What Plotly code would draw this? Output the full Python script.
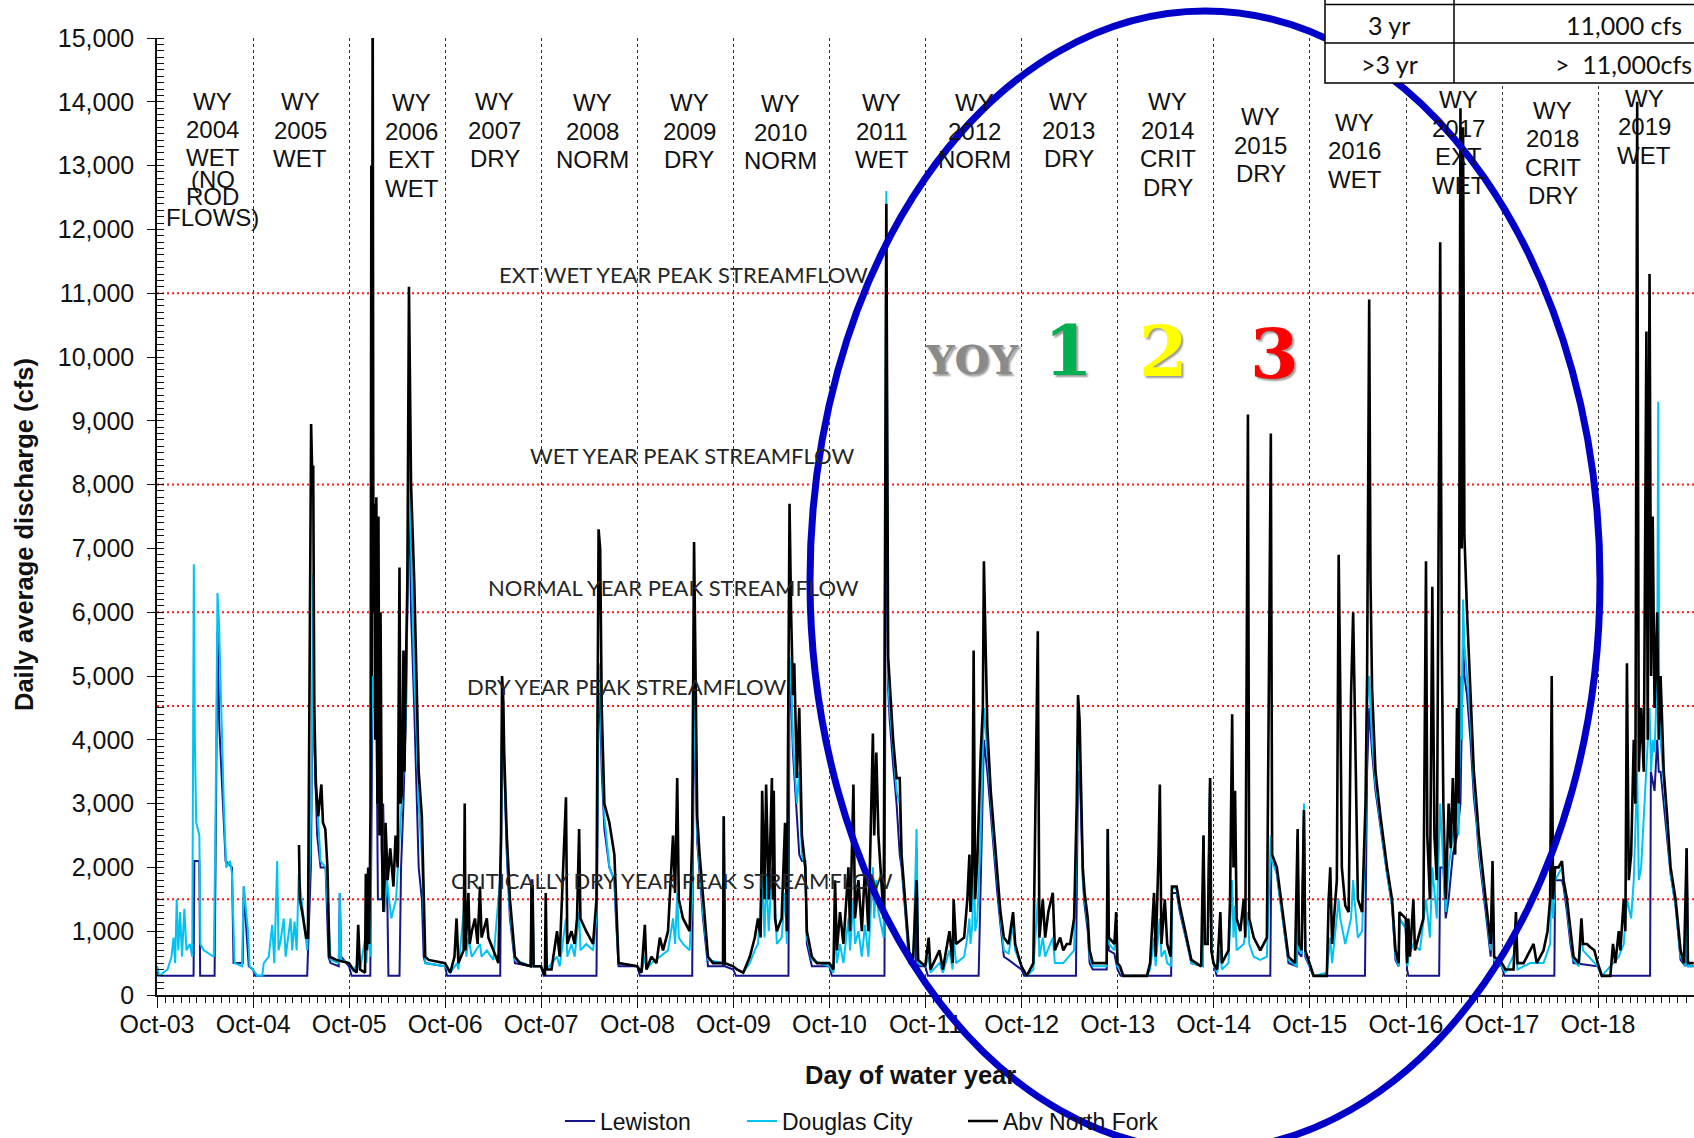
import plotly.graph_objects as go

# ---------------- data ----------------
LEWISTON = [
    ("2003-10-01",450),("2003-10-06",300),("2004-02-17",300),("2004-02-20",2100),("2004-03-10",2100),("2004-03-13",300),
    ("2004-05-07",300),("2004-05-12",2500),("2004-05-18",5700),("2004-05-25",4200),("2004-06-08",3000),("2004-06-18",2100),
    ("2004-07-12",2000),("2004-07-18",500),("2004-08-22",500),("2004-08-26",1700),("2004-09-05",1000),("2004-09-14",450),("2004-09-30",400),
    ("2004-10-08",300),("2005-04-24",300),("2005-05-08",2000),("2005-05-17",5500),("2005-05-22",3800),("2005-06-01",2500),("2005-06-14",2000),
    ("2005-07-03",2000),("2005-07-14",600),("2005-07-22",500),("2005-08-22",450),("2005-08-26",1600),("2005-08-31",600),("2005-09-30",450),
    ("2005-10-10",300),("2005-12-20",300),("2005-12-24",3000),("2005-12-29",5000),("2006-01-05",4500),("2006-01-11",5000),("2006-01-18",1500),
    ("2006-02-03",1500),("2006-02-07",3000),("2006-02-14",1400),("2006-02-21",2000),("2006-02-27",300),("2006-04-10",300),("2006-04-16",2000),
    ("2006-04-25",3000),("2006-05-05",4500),("2006-05-16",8000),("2006-05-24",6000),("2006-06-05",4500),("2006-06-15",3200),("2006-06-22",2000),
    ("2006-07-04",1500),("2006-07-11",600),("2006-07-17",500),("2006-09-30",450),
    ("2006-10-08",300),("2007-04-28",300),("2007-05-05",4300),("2007-05-10",4000),("2007-05-23",2200),("2007-06-04",1200),("2007-06-23",500),
    ("2007-08-22",450),("2007-08-25",1800),("2007-08-29",1800),("2007-09-02",450),("2007-09-30",450),
    ("2007-10-10",300),("2008-04-28",300),("2008-05-06",4800),("2008-05-12",4500),("2008-05-18",3500),("2008-05-28",2600),("2008-06-16",2000),
    ("2008-07-05",1800),("2008-07-11",1200),("2008-07-21",450),("2008-09-30",450),
    ("2008-10-10",300),("2009-04-27",300),("2009-05-04",4800),("2009-05-10",3500),("2009-05-16",2400),("2009-05-25",1900),("2009-06-07",1200),
    ("2009-06-26",450),("2009-08-22",450),("2009-08-25",2800),("2009-08-29",450),("2009-09-30",400),
    ("2009-10-10",300),("2010-04-28",300),("2010-05-02",5000),("2010-05-08",4700),("2010-05-15",3800),("2010-05-30",2800),("2010-06-08",2200),
    ("2010-06-18",2100),("2010-07-01",2100),("2010-07-07",800),("2010-07-26",450),("2010-09-30",450),
    ("2010-10-10",300),("2011-04-28",300),("2011-05-05",10000),("2011-05-12",4800),("2011-05-18",4300),("2011-05-31",3600),("2011-06-13",3000),
    ("2011-06-25",2200),("2011-07-02",2000),("2011-07-14",1400),("2011-07-31",500),("2011-08-25",450),("2011-08-28",2300),("2011-09-03",450),("2011-09-30",450),
    ("2011-10-10",300),("2012-04-20",300),("2012-05-02",2500),("2012-05-10",4000),("2012-05-23",3500),("2012-06-05",2800),("2012-06-17",2200),
    ("2012-06-30",1600),("2012-07-12",1100),("2012-07-25",600),("2012-08-12",550),("2012-09-30",400),
    ("2012-10-10",300),("2013-04-25",300),("2013-05-03",3500),("2013-05-09",3500),("2013-05-15",2800),("2013-05-21",1800),("2013-05-28",1400),
    ("2013-06-09",1000),("2013-06-16",500),("2013-06-28",400),("2013-08-20",400),("2013-08-24",2600),("2013-08-28",700),("2013-09-18",650),("2013-09-30",400),
    ("2013-10-12",300),("2014-04-22",300),("2014-04-25",1600),("2014-05-13",1600),("2014-05-25",1300),("2014-06-19",850),("2014-07-08",500),
    ("2014-08-20",450),("2014-08-23",2500),("2014-08-28",800),("2014-09-08",800),("2014-09-17",3400),("2014-09-22",700),("2014-09-30",500),
    ("2014-10-12",300),("2015-05-04",300),("2015-05-08",2200),("2015-05-29",1900),("2015-06-10",1500),("2015-06-23",1050),("2015-07-12",500),
    ("2015-08-12",450),("2015-08-16",2450),("2015-08-21",650),("2015-08-31",600),("2015-09-09",2900),("2015-09-14",600),("2015-09-30",450),
    ("2015-10-14",300),("2016-04-28",300),("2016-05-06",3500),("2016-05-14",4500),("2016-05-25",3800),("2016-06-07",3200),("2016-06-26",2600),
    ("2016-07-21",1900),("2016-08-09",1400),("2016-08-22",550),("2016-09-03",450),("2016-09-06",1200),("2016-09-30",1050),
    ("2016-10-05",400),("2016-10-10",300),("2017-02-04",300),("2017-02-08",2000),("2017-02-20",2000),("2017-03-01",1200),("2017-03-12",1500),
    ("2017-03-28",2200),("2017-04-13",2500),("2017-04-26",3000),("2017-05-06",5500),("2017-05-11",5000),("2017-05-21",4700),("2017-06-03",4000),
    ("2017-06-16",3100),("2017-06-26",2700),("2017-07-05",2200),("2017-07-31",1300),("2017-08-19",600),("2017-08-26",1600),("2017-09-01",500),("2017-09-30",450),
    ("2017-10-10",300),("2018-04-18",300),("2018-04-21",1800),("2018-05-17",1800),("2018-05-23",1700),("2018-06-05",1300),("2018-06-18",800),
    ("2018-06-30",500),("2018-09-30",450),
    ("2018-10-14",300),("2019-04-17",300),("2019-04-20",3500),("2019-05-04",3200),("2019-05-14",4000),("2019-05-20",3500),("2019-05-27",3500),
    ("2019-06-08",3000),("2019-06-21",2500),("2019-07-04",1900),("2019-07-23",1400),("2019-08-11",550),("2019-08-30",450),("2019-09-03",2300),
    ("2019-09-08",450),("2019-09-30",450),
]

DOUGLAS_CITY = [
    ("2003-10-01",450),("2003-10-10",300),("2003-10-25",350),("2003-11-10",400),("2003-11-25",600),("2003-12-03",900),("2003-12-09",500),
    ("2003-12-15",1500),("2003-12-21",700),("2003-12-28",1300),("2004-01-04",600),("2004-01-13",1350),("2004-01-21",700),("2004-02-03",800),
    ("2004-02-12",600),("2004-02-18",6750),("2004-02-22",4000),("2004-02-27",2700),("2004-03-10",2500),("2004-03-14",800),("2004-03-27",700),
    ("2004-05-04",600),("2004-05-10",2500),("2004-05-18",6300),("2004-05-24",5800),("2004-06-01",4500),("2004-06-11",3000),("2004-06-20",2000),
    ("2004-07-05",2100),("2004-07-12",1900),("2004-07-22",500),("2004-08-19",450),("2004-08-26",1700),("2004-09-11",1000),("2004-09-17",450),("2004-09-30",400),
    ("2004-10-16",300),("2004-11-04",300),("2004-11-10",500),("2004-11-29",600),("2004-12-12",1100),("2004-12-20",500),("2004-12-31",2100),
    ("2005-01-05",700),("2005-01-13",850),("2005-01-25",1200),("2005-02-01",600),("2005-02-20",1200),("2005-02-26",700),("2005-03-07",1150),
    ("2005-03-15",700),("2005-03-23",1900),("2005-04-05",1400),("2005-04-17",950),("2005-04-24",700),("2005-05-10",3000),("2005-05-17",6600),
    ("2005-05-22",4000),("2005-06-01",3000),("2005-06-14",2100),("2005-07-03",2000),("2005-07-16",1000),("2005-07-22",550),("2005-08-22",500),
    ("2005-08-26",1600),("2005-08-31",550),("2005-09-30",500),
    ("2005-10-16",380),("2005-11-04",500),("2005-11-11",400),("2005-12-01",900),("2005-12-05",500),("2005-12-12",1000),("2005-12-20",600),
    ("2005-12-24",4000),("2005-12-29",5000),("2006-01-05",4500),("2006-01-11",5700),("2006-01-20",3500),("2006-02-03",2500),("2006-02-12",1300),
    ("2006-02-21",1800),("2006-03-10",1200),("2006-03-28",1500),("2006-04-10",2500),("2006-04-25",3500),("2006-05-05",4500),("2006-05-16",8500),
    ("2006-05-24",7000),("2006-06-05",5000),("2006-06-15",4000),("2006-06-22",3000),("2006-07-04",2200),("2006-07-11",1200),("2006-07-17",500),("2006-09-30",450),
    ("2006-10-20",350),("2006-11-15",500),("2006-11-20",400),("2006-12-14",1500),("2006-12-20",600),("2006-12-28",900),("2007-01-10",600),
    ("2007-02-10",800),("2007-02-16",600),("2007-03-08",700),("2007-04-02",550),("2007-05-01",2000),("2007-05-05",4500),("2007-05-10",4300),
    ("2007-05-23",2300),("2007-06-04",1300),("2007-06-23",550),("2007-08-22",450),("2007-08-25",1700),("2007-08-29",1700),("2007-09-02",450),("2007-09-30",450),
    ("2007-10-15",300),("2007-10-18",900),("2007-10-22",400),("2007-11-30",600),("2007-12-10",450),("2008-01-03",1200),("2008-01-08",600),
    ("2008-01-24",800),("2008-02-05",600),("2008-02-22",1300),("2008-02-27",700),("2008-03-20",800),("2008-04-15",700),("2008-04-28",1200),
    ("2008-05-06",5200),("2008-05-12",5000),("2008-05-18",3800),("2008-05-28",2800),("2008-06-16",2000),("2008-07-05",1800),("2008-07-11",1300),
    ("2008-07-21",500),("2008-09-30",450),
    ("2008-10-16",350),("2008-10-29",600),("2008-11-04",400),("2008-11-23",500),("2008-12-25",600),("2009-01-25",700),("2009-02-13",1200),
    ("2009-02-21",800),("2009-03-01",1600),("2009-03-07",900),("2009-03-23",800),("2009-04-17",700),("2009-04-27",1500),("2009-05-04",5200),
    ("2009-05-10",3700),("2009-05-16",2500),("2009-05-25",2000),("2009-06-07",1300),("2009-06-26",550),("2009-08-22",500),("2009-08-25",2800),
    ("2009-08-29",500),("2009-09-30",450),
    ("2009-10-14",400),("2009-11-07",350),("2009-12-02",500),("2009-12-21",700),("2010-01-02",800),("2010-01-18",1800),("2010-01-27",900),
    ("2010-02-02",1900),("2010-02-12",1000),("2010-02-24",2000),("2010-03-03",1800),("2010-03-15",800),("2010-04-02",900),("2010-04-15",1600),
    ("2010-04-22",800),("2010-05-02",5300),("2010-05-08",5000),("2010-05-15",4000),("2010-05-30",3000),("2010-06-08",3500),("2010-06-18",2200),
    ("2010-07-01",2000),("2010-07-07",900),("2010-07-26",550),("2010-09-30",450),
    ("2010-10-16",350),("2010-10-22",1000),("2010-10-29",500),("2010-11-10",800),("2010-11-23",500),("2010-12-12",1200),("2010-12-18",700),
    ("2010-12-31",1500),("2011-01-06",800),("2011-01-19",1000),("2011-02-01",600),("2011-02-13",1100),("2011-02-26",600),("2011-03-15",2000),
    ("2011-03-20",1200),("2011-03-28",1800),("2011-04-05",1300),("2011-04-25",900),("2011-05-05",12600),("2011-05-12",5000),("2011-05-18",4500),
    ("2011-05-31",3800),("2011-06-13",3200),("2011-06-25",3000),("2011-07-02",2100),("2011-07-14",1500),("2011-07-31",600),("2011-08-15",500),
    ("2011-08-28",2600),("2011-09-03",500),("2011-09-30",450),
    ("2011-10-13",600),("2011-10-20",350),("2011-11-23",500),("2011-12-06",350),("2011-12-31",700),("2012-01-12",400),("2012-01-16",900),
    ("2012-01-25",500),("2012-02-25",600),("2012-03-08",900),("2012-03-16",1200),("2012-03-20",800),("2012-03-27",1100),("2012-04-01",2500),
    ("2012-04-07",1000),("2012-04-15",1200),("2012-04-28",2500),("2012-05-10",4500),("2012-05-16",4200),("2012-05-23",3800),("2012-06-05",3000),
    ("2012-06-17",2400),("2012-06-30",1800),("2012-07-12",1200),("2012-07-25",700),("2012-08-12",650),("2012-08-29",1100),("2012-09-06",700),("2012-09-30",450),
    ("2012-10-20",300),("2012-11-14",400),("2012-12-01",1500),("2012-12-07",600),("2012-12-20",900),("2012-12-29",600),("2013-01-27",900),
    ("2013-02-04",500),("2013-03-08",500),("2013-04-18",700),("2013-04-28",2500),("2013-05-03",4000),("2013-05-09",3800),("2013-05-15",3000),
    ("2013-05-21",1900),("2013-05-28",1500),("2013-06-09",1100),("2013-06-16",600),("2013-06-28",450),("2013-08-20",450),("2013-08-24",2600),
    ("2013-08-28",800),("2013-09-18",700),("2013-09-25",1000),("2013-09-30",450),
    ("2013-10-10",400),("2013-10-22",300),("2014-01-20",300),("2014-02-01",400),("2014-02-16",900),("2014-02-22",450),("2014-03-05",1000),
    ("2014-03-10",1200),("2014-03-16",600),("2014-03-29",700),("2014-04-07",500),("2014-04-22",450),("2014-04-25",1700),("2014-05-13",1650),
    ("2014-05-25",1350),("2014-06-19",850),("2014-07-08",500),("2014-08-20",450),("2014-08-23",2500),("2014-08-28",800),("2014-09-08",800),
    ("2014-09-17",3400),("2014-09-22",700),("2014-09-30",500),
    ("2014-10-14",350),("2014-10-26",700),("2014-11-01",400),("2014-11-26",500),("2014-12-10",1800),("2014-12-15",900),("2014-12-21",1400),
    ("2014-12-27",700),("2015-01-23",800),("2015-02-08",1300),("2015-02-13",800),("2015-03-02",600),("2015-03-27",550),("2015-04-21",600),
    ("2015-05-06",2500),("2015-05-11",2100),("2015-05-29",1900),("2015-06-10",1500),("2015-06-23",1100),("2015-07-12",550),("2015-08-12",450),
    ("2015-08-16",2500),("2015-08-21",700),("2015-08-31",650),("2015-09-09",3000),("2015-09-14",650),("2015-09-30",450),
    ("2015-10-16",300),("2015-12-05",350),("2015-12-12",600),("2015-12-18",900),("2015-12-25",500),("2016-01-19",1500),("2016-01-25",1200),
    ("2016-02-13",800),("2016-03-06",1200),("2016-03-14",1800),("2016-03-19",1500),("2016-04-01",900),("2016-04-17",1000),("2016-04-30",2500),
    ("2016-05-06",4500),("2016-05-14",5000),("2016-05-19",4500),("2016-05-25",4000),("2016-06-07",3300),("2016-06-26",2700),("2016-07-21",1900),
    ("2016-08-09",1400),("2016-08-22",600),("2016-09-03",450),("2016-09-06",1200),("2016-09-30",1050),
    ("2016-10-06",450),("2016-10-10",600),("2016-10-29",800),("2016-11-23",700),("2016-12-16",1500),("2016-12-31",900),("2017-01-09",2000),
    ("2017-01-26",1200),("2017-02-08",3000),("2017-02-14",2500),("2017-03-01",1300),("2017-03-12",2000),("2017-03-28",2500),("2017-04-13",3000),
    ("2017-04-19",2500),("2017-04-26",5000),("2017-05-01",4000),("2017-05-06",6200),("2017-05-11",5500),("2017-05-21",5000),("2017-06-03",4300),
    ("2017-06-16",3300),("2017-06-26",2800),("2017-07-05",2300),("2017-07-31",1400),("2017-08-19",700),("2017-08-26",1800),("2017-09-01",550),("2017-09-30",450),
    ("2017-10-14",350),("2017-11-23",700),("2017-11-29",400),("2018-01-16",500),("2018-03-08",500),("2018-04-02",800),("2018-04-08",2000),
    ("2018-04-13",1200),("2018-04-21",1800),("2018-05-04",1900),("2018-05-17",2000),("2018-05-23",1800),("2018-06-05",1400),("2018-06-18",900),
    ("2018-06-30",550),("2018-07-20",450),("2018-07-30",1000),("2018-08-05",700),("2018-09-30",450),
    ("2018-10-16",300),("2018-11-27",500),("2018-12-19",600),("2019-01-07",800),("2019-01-19",1500),("2019-02-04",1200),("2019-02-14",1800),
    ("2019-02-27",3500),("2019-03-05",1800),("2019-03-14",2000),("2019-04-03",3500),("2019-04-15",4500),("2019-04-21",3500),("2019-04-27",4000),
    ("2019-05-04",3800),("2019-05-14",5000),("2019-05-18",9300),("2019-05-22",4500),("2019-05-27",4000),("2019-06-08",3300),("2019-06-21",2600),
    ("2019-07-04",1900),("2019-07-23",1400),("2019-08-11",600),("2019-08-30",450),("2019-09-03",2300),("2019-09-08",450),("2019-09-30",450),
]

ABV_NORTH_FORK = [
    ("2005-03-24",2350),("2005-03-27",1500),("2005-04-05",1300),("2005-04-12",1100),("2005-04-20",900),("2005-04-27",900),("2005-04-30",3000),
    ("2005-05-09",8950),("2005-05-14",8000),("2005-05-17",8300),("2005-05-21",4500),("2005-05-27",3300),("2005-06-05",2800),("2005-06-17",3300),
    ("2005-06-23",2700),("2005-07-02",2600),("2005-07-10",2000),("2005-07-14",1000),("2005-07-18",600),("2005-08-13",550),("2005-09-30",500),
    ("2005-10-16",400),("2005-10-29",350),("2005-11-04",1100),("2005-11-11",400),("2005-11-30",350),("2005-12-03",1900),("2005-12-07",700),
    ("2005-12-12",2000),("2005-12-16",800),("2005-12-21",3000),("2005-12-24",13000),("2005-12-26",5000),("2005-12-29",16000),("2006-01-01",6000),
    ("2006-01-05",7700),("2006-01-08",4000),("2006-01-12",7800),("2006-01-16",3000),("2006-01-20",7500),("2006-01-24",2500),("2006-01-28",6000),
    ("2006-02-02",2300),("2006-02-08",1300),("2006-02-16",2700),("2006-02-24",1800),("2006-03-06",2300),("2006-03-18",1700),("2006-03-26",2500),
    ("2006-04-03",2000),("2006-04-10",6700),("2006-04-14",3000),("2006-04-20",3200),("2006-04-25",5400),("2006-04-29",3500),("2006-05-04",5000),
    ("2006-05-10",6500),("2006-05-16",11100),("2006-05-20",9500),("2006-05-24",8000),("2006-06-05",6500),("2006-06-15",4800),("2006-06-22",3500),
    ("2006-07-04",2800),("2006-07-11",1500),("2006-07-17",600),("2006-07-30",550),("2006-09-30",500),
    ("2006-10-20",350),("2006-11-05",600),("2006-11-13",1200),("2006-11-20",500),("2006-12-10",700),("2006-12-14",3000),("2006-12-17",700),
    ("2006-12-28",1600),("2007-01-02",800),("2007-01-10",1000),("2007-01-22",1200),("2007-02-01",800),("2007-02-10",1700),("2007-02-16",900),
    ("2007-03-08",1200),("2007-03-14",900),("2007-04-02",700),("2007-04-21",500),("2007-05-01",2500),("2007-05-05",5000),("2007-05-10",4600),
    ("2007-05-13",3800),("2007-05-23",2500),("2007-06-04",1500),("2007-06-23",600),("2007-07-12",500),("2007-08-22",450),("2007-08-25",1700),
    ("2007-08-29",1700),("2007-09-02",450),("2007-09-30",450),
    ("2007-10-15",300),("2007-10-18",1600),("2007-10-22",400),("2007-11-09",400),("2007-11-30",1000),("2007-12-10",600),("2008-01-03",3100),
    ("2008-01-08",800),("2008-01-24",1000),("2008-02-05",800),("2008-02-14",1200),("2008-02-22",2600),("2008-02-27",1200),("2008-03-20",1000),
    ("2008-04-15",800),("2008-04-28",1500),("2008-05-06",7300),("2008-05-12",7000),("2008-05-18",4500),("2008-05-28",3000),("2008-06-16",2700),
    ("2008-07-05",2200),("2008-07-11",1500),("2008-07-21",500),("2008-09-30",450),
    ("2008-10-16",350),("2008-10-29",1100),("2008-11-04",400),("2008-11-23",600),("2008-12-12",500),("2008-12-25",900),("2009-01-06",700),
    ("2009-01-25",1000),("2009-02-13",2500),("2009-02-21",1600),("2009-03-01",3400),("2009-03-07",1500),("2009-03-23",1200),("2009-04-17",1000),
    ("2009-04-27",2500),("2009-05-04",7100),("2009-05-10",4500),("2009-05-16",2800),("2009-05-25",2200),("2009-06-07",1500),("2009-06-26",600),
    ("2009-07-15",500),("2009-08-22",500),("2009-08-25",2800),("2009-08-29",500),("2009-09-30",450),
    ("2009-10-14",400),("2009-11-07",350),("2009-12-02",600),("2009-12-21",900),("2010-01-02",1200),("2010-01-12",900),("2010-01-18",3200),
    ("2010-01-27",1500),("2010-02-02",3300),("2010-02-12",1500),("2010-02-24",3400),("2010-02-28",1500),("2010-03-03",3200),("2010-03-08",1200),
    ("2010-03-15",1000),("2010-04-02",1200),("2010-04-15",2700),("2010-04-22",1000),("2010-05-02",7700),("2010-05-08",6000),("2010-05-15",4700),
    ("2010-05-20",5200),("2010-05-30",3400),("2010-06-08",4500),("2010-06-18",2500),("2010-07-01",2000),("2010-07-07",1000),("2010-07-26",600),
    ("2010-08-14",500),("2010-09-30",500),
    ("2010-10-16",400),("2010-10-22",1800),("2010-10-29",700),("2010-11-10",1300),("2010-11-23",800),("2010-12-12",2000),("2010-12-18",1000),
    ("2010-12-31",3300),("2011-01-06",1200),("2011-01-19",1800),("2011-02-01",1000),("2011-02-13",2000),("2011-02-26",1000),("2011-03-15",4100),
    ("2011-03-20",2500),("2011-03-28",3800),("2011-04-05",2500),("2011-04-25",1200),("2011-05-05",12400),("2011-05-12",5300),("2011-05-18",4900),
    ("2011-05-31",4000),("2011-06-13",3400),("2011-06-25",3400),("2011-07-02",2200),("2011-07-14",1600),("2011-07-31",670),("2011-08-15",570),
    ("2011-08-28",1800),("2011-09-03",550),("2011-09-30",450),
    ("2011-10-13",900),("2011-10-20",400),("2011-11-23",700),("2011-12-06",400),("2011-12-31",1000),("2012-01-12",500),("2012-01-16",1500),
    ("2012-01-25",800),("2012-02-25",900),("2012-03-08",1500),("2012-03-16",2200),("2012-03-20",1300),("2012-03-27",2000),("2012-04-01",5400),
    ("2012-04-07",1500),("2012-04-15",2100),("2012-04-28",3800),("2012-05-06",4500),("2012-05-10",6800),("2012-05-16",5500),("2012-05-23",4200),
    ("2012-06-05",3200),("2012-06-17",2600),("2012-06-30",2000),("2012-07-12",1300),("2012-07-25",900),("2012-08-12",800),("2012-08-29",1300),
    ("2012-09-06",800),("2012-09-19",600),("2012-09-30",450),
    ("2012-10-20",300),("2012-11-14",500),("2012-12-01",5700),("2012-12-07",900),("2012-12-20",1500),("2012-12-29",900),("2013-01-10",1300),
    ("2013-01-27",1600),("2013-02-04",700),("2013-02-24",900),("2013-03-08",700),("2013-03-21",800),("2013-04-03",800),("2013-04-18",1200),
    ("2013-04-28",3000),("2013-05-03",4700),("2013-05-09",4300),("2013-05-15",3200),("2013-05-21",2000),("2013-05-28",1600),("2013-06-09",1200),
    ("2013-06-16",700),("2013-06-22",600),("2013-06-28",500),("2013-08-20",500),("2013-08-24",2600),("2013-08-28",900),("2013-09-18",800),
    ("2013-09-25",1300),("2013-09-30",500),
    ("2013-10-10",450),("2013-10-22",300),("2014-01-20",300),("2014-02-01",500),("2014-02-16",1600),("2014-02-22",600),("2014-03-05",2200),
    ("2014-03-10",3300),("2014-03-16",800),("2014-03-29",1500),("2014-04-07",800),("2014-04-20",600),("2014-04-25",1700),("2014-05-13",1700),
    ("2014-05-25",1400),("2014-06-19",900),("2014-07-08",550),("2014-08-14",450),("2014-08-23",2500),("2014-08-28",800),("2014-09-08",800),
    ("2014-09-17",3400),("2014-09-22",700),("2014-09-30",500),
    ("2014-10-14",400),("2014-10-26",1300),("2014-11-01",500),("2014-11-26",700),("2014-12-02",1500),("2014-12-10",4400),("2014-12-15",2000),
    ("2014-12-21",3200),("2014-12-27",1200),("2015-01-10",1000),("2015-01-23",1500),("2015-01-29",900),("2015-02-08",9100),("2015-02-13",1200),
    ("2015-03-02",900),("2015-03-27",700),("2015-04-21",900),("2015-05-06",8800),("2015-05-11",2200),("2015-05-29",2000),("2015-06-10",1600),
    ("2015-06-23",1200),("2015-07-12",600),("2015-08-06",500),("2015-08-16",2600),("2015-08-21",800),("2015-08-31",700),("2015-09-09",2900),
    ("2015-09-14",700),("2015-09-30",500),
    ("2015-10-16",300),("2015-12-05",300),("2015-12-12",1500),("2015-12-18",2000),("2015-12-25",800),("2016-01-12",1800),("2016-01-19",6900),
    ("2016-01-25",4800),("2016-01-31",2000),("2016-02-13",1400),("2016-02-26",1300),("2016-03-06",4700),("2016-03-14",6000),("2016-03-19",4800),
    ("2016-04-01",1500),("2016-04-17",1300),("2016-04-30",3000),("2016-05-06",5000),("2016-05-14",10900),("2016-05-19",6500),("2016-05-25",4800),
    ("2016-06-07",3500),("2016-06-26",2800),("2016-07-21",2000),("2016-08-09",1500),("2016-08-22",700),("2016-09-03",500),("2016-09-06",1300),
    ("2016-09-30",1200),
    ("2016-10-05",500),("2016-10-10",1200),("2016-10-16",600),("2016-10-29",1500),("2016-11-04",700),("2016-11-23",1000),("2016-12-06",1200),
    ("2016-12-16",6800),("2016-12-21",2500),("2016-12-31",1500),("2017-01-09",6400),("2017-01-17",2500),("2017-01-26",1800),("2017-02-08",11800),
    ("2017-02-14",5500),("2017-02-20",3000),("2017-03-01",1500),("2017-03-12",3000),("2017-03-20",2300),("2017-03-28",3400),("2017-04-06",2200),
    ("2017-04-13",4500),("2017-04-19",3000),("2017-04-26",13900),("2017-05-01",7000),("2017-05-06",13600),("2017-05-11",7200),("2017-05-21",6000),
    ("2017-06-03",4800),("2017-06-16",3500),("2017-06-26",3000),("2017-07-05",2500),("2017-07-31",1500),("2017-08-19",800),("2017-08-26",2100),
    ("2017-09-01",600),("2017-09-30",500),
    ("2017-10-14",400),("2017-11-14",400),("2017-11-23",1300),("2017-11-29",500),("2017-12-22",500),("2018-01-16",700),("2018-01-29",800),
    ("2018-02-10",500),("2018-03-08",700),("2018-03-23",1000),("2018-04-02",1500),("2018-04-08",5000),("2018-04-13",1500),("2018-04-21",2000),
    ("2018-05-04",2000),("2018-05-17",2100),("2018-05-23",1800),("2018-06-05",1500),("2018-06-18",1000),("2018-06-30",600),("2018-07-20",500),
    ("2018-07-30",1200),("2018-08-05",800),("2018-08-20",800),("2018-09-02",750),("2018-09-17",700),("2018-09-30",500),
    ("2018-10-16",300),("2018-11-17",300),("2018-11-27",800),("2018-12-06",500),("2018-12-19",1000),("2018-12-25",700),("2019-01-07",1500),
    ("2019-01-13",1000),("2019-01-19",5200),("2019-01-26",1800),("2019-02-04",2200),("2019-02-14",4000),("2019-02-20",3000),("2019-02-27",14000),
    ("2019-03-05",3500),("2019-03-14",4500),("2019-03-24",3500),("2019-04-03",10400),("2019-04-08",4000),("2019-04-15",11300),("2019-04-21",5000),
    ("2019-04-27",7500),("2019-05-04",4500),("2019-05-14",6000),("2019-05-20",4000),("2019-05-27",5000),("2019-06-08",3500),("2019-06-21",2800),
    ("2019-07-04",2000),("2019-07-23",1500),("2019-08-11",700),("2019-08-24",500),("2019-09-03",2300),("2019-09-08",500),("2019-09-30",500),
]

SERIES_NAMES = ["Lewiston", "Douglas City", "Abv North Fork"]

X_TICK_DATES = [f"{y}-10-01" for y in range(2003, 2019)]
X_TICK_LABELS = ["Oct-03", "Oct-04", "Oct-05", "Oct-06", "Oct-07", "Oct-08", "Oct-09", "Oct-10",
                 "Oct-11", "Oct-12", "Oct-13", "Oct-14", "Oct-15", "Oct-16", "Oct-17", "Oct-18"]

PEAK_LEVELS = [11000, 8000, 6000, 4530, 1500]
PEAK_LABELS = ["EXT WET YEAR PEAK STREAMFLOW", "WET YEAR PEAK STREAMFLOW", "NORMAL YEAR PEAK STREAMFLOW",
               "DRY YEAR PEAK STREAMFLOW", "CRITICALLY DRY YEAR PEAK STREAMFLOW"]

WY_LABELS = [
    ["WY", "2004", "WET", "(NO", "ROD", "FLOWS)"],
    ["WY", "2005", "WET"], ["WY", "2006", "EXT", "WET"], ["WY", "2007", "DRY"], ["WY", "2008", "NORM"],
    ["WY", "2009", "DRY"], ["WY", "2010", "NORM"], ["WY", "2011", "WET"], ["WY", "2012", "NORM"],
    ["WY", "2013", "DRY"], ["WY", "2014", "CRIT", "DRY"], ["WY", "2015", "DRY"], ["WY", "2016", "WET"],
    ["WY", "2017", "EXT", "WET"], ["WY", "2018", "CRIT", "DRY"], ["WY", "2019", "WET"],
]

TABLE_ROWS = [("3 yr", "11,000 cfs"), (">3 yr", ">  11,000cfs")]
YOY_TEXT = ["YOY", "1", "2", "3"]

# ---------------- layout geometry (pixels) ----------------
W, H = 1694, 1138
L, R, T, B = 157, 1694, 38, 995


def px(x):
    return (x - L) / (R - L)


def py(y):
    return (B - y) / (B - T)


fig = go.Figure()
styles = [("#15158a", 2.0), ("#00c3f3", 2.0), ("#000000", 2.6)]
legend_ids = ["legend", "legend2", "legend3"]
for name, pts, (col, wd), lg in zip(SERIES_NAMES, [LEWISTON, DOUGLAS_CITY, ABV_NORTH_FORK], styles, legend_ids):
    fig.add_trace(go.Scatter(x=[d for d, _ in pts], y=[v for _, v in pts], mode="lines", name=name,
                             line=dict(color=col, width=wd), hoverinfo="skip", legend=lg, showlegend=True))

shapes = []
for lvl in PEAK_LEVELS:
    shapes.append(dict(type="line", xref="paper", yref="y", x0=0, x1=1, y0=lvl, y1=lvl,
                       line=dict(color="#ff1a1a", width=2, dash="2px,3px"), layer="below"))

# blue ellipse
shapes.append(dict(type="circle", xref="paper", yref="paper", x0=px(810), x1=px(1600), y0=py(1150), y1=py(11),
                   line=dict(color="#0000c8", width=7), fillcolor="rgba(0,0,0,0)", layer="above"))
# table
shapes.append(dict(type="rect", xref="paper", yref="paper", x0=px(1325), x1=px(1710), y0=py(83), y1=py(-20),
                   line=dict(color="#000", width=1.5), fillcolor="white", layer="above"))
for yy in (4.5, 43):
    shapes.append(dict(type="line", xref="paper", yref="paper", x0=px(1325), x1=px(1710), y0=py(yy), y1=py(yy),
                       line=dict(color="#000", width=1.5), layer="above"))
shapes.append(dict(type="line", xref="paper", yref="paper", x0=px(1454), x1=px(1454), y0=py(83), y1=py(-20),
                   line=dict(color="#000", width=1.5), layer="above"))

ann = []
label_font = dict(family="Liberation Sans, Arial", size=24, color="#111")
# WY labels
wy_cx = [212.8, 300.4, 411.6, 494.8, 592.1, 689.3, 780.0, 881.6, 974.5, 1068.5, 1167.9, 1260.8, 1354.8, 1458.5, 1552.5, 1644.4]
wy_top = [102, 102.6, 103.7, 102.6, 103.7, 103.7, 104.8, 103.7, 103.7, 102.6, 102.6, 117.8, 123.2, 100.5, 111.3, 99.4]
for i, lines in enumerate(WY_LABELS):
    offs = [0, 28, 56, 78, 96, 117] if i == 0 else [k * 28.5 for k in range(len(lines))]
    for line, off in zip(lines, offs):
        ann.append(dict(text=line, xref="paper", yref="paper", x=px(wy_cx[i]), y=py(wy_top[i] + off - 1),
                        xanchor="center", yanchor="middle", showarrow=False, font=label_font))

# peak streamflow labels
peak_pos = [(683, 274), (692, 455), (673, 587), (626, 686), (672, 880)]
for txt, (cx, cy) in zip(PEAK_LABELS, peak_pos):
    ann.append(dict(text=txt, xref="paper", yref="paper", x=px(cx), y=py(cy), xanchor="center", yanchor="middle",
                    showarrow=False, font=dict(family="Lato", size=22, color="#262626")))

# YOY 1 2 3
yoy_pos = [(972, 359, 40, "#8a8a8a"), (1068, 350, 70, "#00b050"), (1163, 351, 70, "#ffff00"), (1274, 353, 70, "#ff0000")]
for txt, (cx, cy, sz, col) in zip(YOY_TEXT, yoy_pos):
    ann.append(dict(text=txt, xref="paper", yref="paper", x=px(cx), y=py(cy), xanchor="center", yanchor="middle",
                    showarrow=False, font=dict(family="DejaVu Serif", size=sz, color=col, weight="bold",
                                               shadow="2px 2px 2px #9a9a9a")))

# table text
tfont = dict(family="Lato", size=25, color="#111")
for (a, b), cy in zip(TABLE_ROWS, (25, 64)):
    ann.append(dict(text=a, xref="paper", yref="paper", x=px(1389), y=py(cy), xanchor="center", yanchor="middle",
                    showarrow=False, font=tfont))
ann.append(dict(text=TABLE_ROWS[0][1], xref="paper", yref="paper", x=px(1684), y=py(25), xanchor="right",
                yanchor="middle", showarrow=False, font=tfont))
ann.append(dict(text=TABLE_ROWS[1][1], xref="paper", yref="paper", x=px(1694), y=py(64), xanchor="right",
                yanchor="middle", showarrow=False, font=tfont))

# axis titles
title_font = dict(family="Liberation Sans, Arial", size=25.5, color="#111", weight="bold")
ann.append(dict(text="Daily average discharge (cfs)", xref="paper", yref="paper", x=px(24), y=py(535),
                xanchor="center", yanchor="middle", textangle=-90, showarrow=False, font=title_font))
ann.append(dict(text="Day of water year", xref="paper", yref="paper", x=px(910), y=py(1075),
                xanchor="center", yanchor="middle", showarrow=False, font=title_font))

leg_font = dict(family="Liberation Sans, Arial", size=23, color="#111")
leg_common = dict(orientation="h", y=py(1121), xanchor="left", yanchor="middle", font=leg_font,
                  bgcolor="rgba(0,0,0,0)", visible=True)

fig.update_layout(
    width=W, height=H, margin=dict(l=L, r=W - R, t=T, b=H - B, pad=0, autoexpand=False),
    paper_bgcolor="white", plot_bgcolor="white", showlegend=True,
    font=dict(family="Liberation Sans, Arial", color="#111"),
    shapes=shapes, annotations=ann,
    legend=dict(x=px(560), **leg_common),
    legend2=dict(x=px(742), **leg_common),
    legend3=dict(x=px(963), **leg_common),
    xaxis=dict(type="date", range=["2003-10-01", "2019-10-01"], tickvals=X_TICK_DATES, ticktext=X_TICK_LABELS,
               ticks="outside", ticklen=11, tickwidth=1.2, tickcolor="#111", showline=True, linecolor="#111",
               linewidth=1.5, showgrid=True, gridcolor="#333", griddash="3px,3px", gridwidth=1, zeroline=False,
               tickfont=dict(size=25), ticklabelstandoff=-5, automargin=False,
               minor=dict(dtick="M1", tick0="2003-10-01", ticks="outside", ticklen=6, tickcolor="#111", showgrid=False)),
    yaxis=dict(range=[0, 15000], tickvals=list(range(0, 15001, 1000)), tickformat=",", ticks="outside", ticklen=8,
               tickwidth=1.2, tickcolor="#111", showline=True, linecolor="#111", linewidth=1.5, showgrid=False,
               zeroline=False, tickfont=dict(size=25), ticklabelstandoff=8, automargin=False,
               minor=dict(dtick=100, ticks="inside", ticklen=7, tickcolor="#111", showgrid=False)),
)

fig.write_html("out.html")
